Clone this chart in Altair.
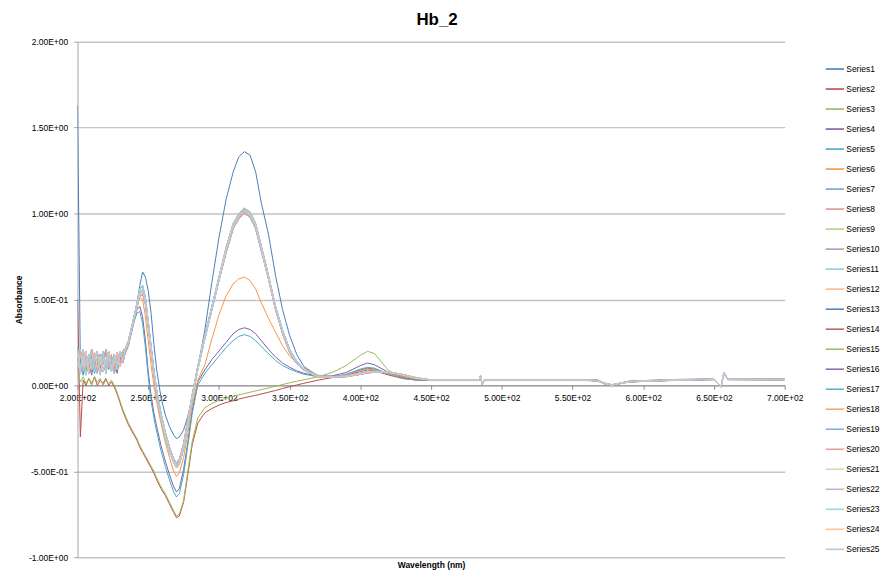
import altair as alt
import pandas as pd

WAVELENGTH = [200, 202, 204, 206, 208, 210, 212, 214, 216, 218, 220, 222, 224, 226, 228, 230, 232, 234,
              236, 238, 240, 242, 244, 246, 248, 250, 252, 254, 256, 259, 262, 265, 268, 270, 272, 275, 278, 281, 285,
              290, 295, 300, 305, 310, 314, 318, 322, 326, 330, 335, 340, 345, 350, 355, 360,
              370, 380, 390, 400, 405, 410, 420, 430, 440, 450,
              484, 485, 486, 488, 520, 560, 568, 572, 578, 584, 590, 620, 650, 655, 657, 660, 700]

S1 = [1.63, 0.12, 0.06, 0.15, 0.09, 0.17, 0.07, 0.13, 0.10, 0.16, 0.08, 0.14, 0.11, 0.17, 0.09, 0.15, 0.18, 0.21,
      0.25, 0.31, 0.38, 0.47, 0.58, 0.66, 0.63, 0.55, 0.42, 0.24, 0.09, -0.07, -0.17, -0.24, -0.29, -0.31, -0.30, -0.26, -0.18, -0.07, 0.10,
      0.32, 0.60, 0.86, 1.08, 1.24, 1.33, 1.36, 1.34, 1.24, 1.06, 0.88, 0.64, 0.44, 0.29, 0.18, 0.11,
      0.055, 0.05, 0.06, 0.09, 0.10, 0.095, 0.07, 0.05, 0.035, 0.03,
      0.03, 0.05, 0.008, 0.03, 0.03, 0.03, 0.028, 0.012, 0.003, 0.012, 0.022, 0.03, 0.035, -0.008, 0.07, 0.035, 0.035]

S2 = [0.50, -0.30, 0.03, 0.00, 0.04, 0.01, 0.05, 0.00, 0.03, 0.01, 0.04, 0.00, 0.02, -0.01, -0.05, -0.10, -0.15, -0.19,
      -0.23, -0.26, -0.29, -0.32, -0.36, -0.39, -0.42, -0.45, -0.48, -0.51, -0.55, -0.60, -0.64, -0.69, -0.74, -0.77, -0.76, -0.68, -0.52, -0.35, -0.22,
      -0.16, -0.135, -0.115, -0.10, -0.09, -0.08, -0.072, -0.065, -0.058, -0.05, -0.04, -0.03, -0.018, -0.008, 0.002, 0.012,
      0.03, 0.045, 0.06, 0.08, 0.09, 0.085, 0.06, 0.04, 0.03, 0.028,
      0.028, 0.05, 0.006, 0.028, 0.028, 0.028, 0.025, 0.01, 0.0, 0.01, 0.02, 0.028, 0.033, -0.01, 0.07, 0.033, 0.032]

S3 = [0.08, 0.02, 0.05, 0.01, 0.04, 0.00, 0.05, 0.02, 0.04, 0.00, 0.03, 0.01, 0.03, 0.00, -0.04, -0.09, -0.14, -0.18,
      -0.22, -0.25, -0.28, -0.31, -0.35, -0.38, -0.41, -0.44, -0.47, -0.50, -0.54, -0.59, -0.63, -0.68, -0.73, -0.76, -0.75, -0.67, -0.50, -0.33, -0.19,
      -0.13, -0.105, -0.088, -0.075, -0.064, -0.055, -0.048, -0.04, -0.032, -0.025, -0.015, -0.005, 0.005, 0.015, 0.024, 0.032,
      0.05, 0.075, 0.115, 0.175, 0.198, 0.185, 0.085, 0.05, 0.035, 0.03,
      0.03, 0.052, 0.008, 0.03, 0.03, 0.03, 0.027, 0.012, 0.002, 0.012, 0.022, 0.03, 0.035, -0.008, 0.072, 0.035, 0.034]

S4 = [0.12, 0.07, 0.16, 0.09, 0.13, 0.06, 0.15, 0.10, 0.17, 0.08, 0.12, 0.16, 0.09, 0.14, 0.07, 0.16, 0.15, 0.20,
      0.24, 0.31, 0.38, 0.44, 0.46, 0.40, 0.26, 0.08, -0.06, -0.16, -0.24, -0.35, -0.44, -0.52, -0.59, -0.62, -0.60, -0.49, -0.33, -0.15, 0.02,
      0.09, 0.15, 0.20, 0.25, 0.30, 0.325, 0.335, 0.325, 0.30, 0.26, 0.21, 0.165, 0.13, 0.105, 0.085, 0.07,
      0.055, 0.055, 0.075, 0.115, 0.13, 0.12, 0.075, 0.045, 0.035, 0.033,
      0.034, 0.056, 0.01, 0.034, 0.034, 0.034, 0.031, 0.015, 0.004, 0.014, 0.025, 0.034, 0.038, -0.006, 0.074, 0.038, 0.037]

S5 = [0.09, 0.14, 0.06, 0.12, 0.17, 0.08, 0.11, 0.15, 0.07, 0.13, 0.18, 0.09, 0.14, 0.08, 0.15, 0.12, 0.17, 0.19,
      0.23, 0.30, 0.37, 0.42, 0.43, 0.36, 0.22, 0.05, -0.09, -0.19, -0.27, -0.38, -0.47, -0.55, -0.62, -0.65, -0.63, -0.52, -0.35, -0.17, 0.0,
      0.07, 0.12, 0.17, 0.22, 0.26, 0.285, 0.295, 0.285, 0.26, 0.225, 0.185, 0.145, 0.115, 0.095, 0.078, 0.065,
      0.05, 0.05, 0.065, 0.095, 0.105, 0.10, 0.065, 0.04, 0.03, 0.028,
      0.028, 0.05, 0.005, 0.028, 0.029, 0.029, 0.026, 0.011, 0.001, 0.011, 0.021, 0.029, 0.034, -0.01, 0.07, 0.033, 0.033]

S6 = [0.15, 0.08, 0.18, 0.10, 0.14, 0.20, 0.09, 0.16, 0.11, 0.19, 0.08, 0.15, 0.18, 0.10, 0.16, 0.13, 0.19, 0.21,
      0.25, 0.32, 0.39, 0.46, 0.51, 0.50, 0.40, 0.26, 0.12, 0.0, -0.10, -0.22, -0.33, -0.42, -0.50, -0.53, -0.51, -0.42, -0.28, -0.12, 0.03,
      0.12, 0.27, 0.41, 0.52, 0.59, 0.62, 0.63, 0.61, 0.56, 0.48, 0.39, 0.31, 0.23, 0.17, 0.13, 0.10,
      0.06, 0.05, 0.06, 0.085, 0.095, 0.09, 0.07, 0.05, 0.035, 0.031,
      0.031, 0.053, 0.008, 0.031, 0.031, 0.031, 0.028, 0.013, 0.003, 0.013, 0.023, 0.031, 0.036, -0.008, 0.072, 0.036, 0.035]

# Series 7-25 are drawn almost on top of each other; four read-off variants
CLUSTER_A = [0.22, 0.10, 0.17, 0.06, 0.14, 0.19, 0.08, 0.15, 0.12, 0.20, 0.07, 0.16, 0.11, 0.18, 0.09, 0.17, 0.20, 0.22,
             0.26, 0.33, 0.40, 0.48, 0.56, 0.58, 0.51, 0.37, 0.23, 0.09, -0.03, -0.16, -0.27, -0.36, -0.43, -0.46, -0.44, -0.35, -0.21, -0.06, 0.11,
             0.29, 0.46, 0.63, 0.80, 0.94, 1.00, 1.03, 1.01, 0.94, 0.81, 0.64, 0.46, 0.32, 0.21, 0.14, 0.095,
             0.055, 0.05, 0.055, 0.07, 0.08, 0.082, 0.078, 0.062, 0.042, 0.031,
             0.031, 0.054, 0.007, 0.031, 0.031, 0.03, 0.028, 0.012, 0.002, 0.013, 0.022, 0.031, 0.036, -0.009, 0.075, 0.036, 0.035]

CLUSTER_B = [0.09, 0.18, 0.12, 0.20, 0.07, 0.15, 0.19, 0.10, 0.17, 0.08, 0.14, 0.20, 0.09, 0.13, 0.19, 0.11, 0.16, 0.21,
             0.25, 0.32, 0.39, 0.46, 0.53, 0.55, 0.49, 0.35, 0.21, 0.07, -0.05, -0.18, -0.29, -0.38, -0.44, -0.47, -0.45, -0.36, -0.22, -0.07, 0.10,
             0.28, 0.45, 0.62, 0.79, 0.93, 0.99, 1.02, 1.00, 0.93, 0.80, 0.63, 0.45, 0.31, 0.20, 0.13, 0.09,
             0.05, 0.048, 0.052, 0.066, 0.075, 0.078, 0.075, 0.06, 0.04, 0.03,
             0.03, 0.053, 0.006, 0.03, 0.03, 0.03, 0.027, 0.011, 0.001, 0.012, 0.021, 0.03, 0.035, -0.01, 0.074, 0.035, 0.034]

CLUSTER_C = [0.16, 0.07, 0.21, 0.11, 0.18, 0.09, 0.14, 0.20, 0.06, 0.16, 0.12, 0.19, 0.08, 0.17, 0.12, 0.20, 0.15, 0.22,
             0.26, 0.33, 0.40, 0.47, 0.54, 0.56, 0.50, 0.36, 0.21, 0.07, -0.05, -0.19, -0.30, -0.39, -0.45, -0.48, -0.46, -0.37, -0.23, -0.08, 0.09,
             0.27, 0.44, 0.61, 0.78, 0.92, 0.98, 1.01, 0.99, 0.92, 0.79, 0.62, 0.45, 0.31, 0.20, 0.13, 0.09,
             0.052, 0.05, 0.054, 0.068, 0.076, 0.08, 0.077, 0.064, 0.044, 0.032,
             0.032, 0.055, 0.008, 0.032, 0.032, 0.031, 0.028, 0.013, 0.003, 0.013, 0.022, 0.031, 0.036, -0.009, 0.076, 0.036, 0.035]

CLUSTER_D = [0.13, 0.21, 0.08, 0.16, 0.11, 0.21, 0.13, 0.07, 0.18, 0.12, 0.21, 0.10, 0.17, 0.07, 0.14, 0.19, 0.13, 0.20,
             0.24, 0.31, 0.38, 0.45, 0.52, 0.53, 0.47, 0.34, 0.20, 0.06, -0.06, -0.18, -0.28, -0.36, -0.43, -0.45, -0.43, -0.34, -0.20, -0.06, 0.10,
             0.28, 0.44, 0.61, 0.77, 0.91, 0.97, 1.00, 0.98, 0.91, 0.78, 0.62, 0.44, 0.30, 0.19, 0.125, 0.088,
             0.05, 0.047, 0.05, 0.064, 0.072, 0.076, 0.074, 0.06, 0.041, 0.03,
             0.03, 0.052, 0.006, 0.03, 0.03, 0.029, 0.026, 0.011, 0.001, 0.011, 0.02, 0.029, 0.034, -0.01, 0.073, 0.034, 0.033]

SERIES_NAMES = [f"Series{i}" for i in range(1, 26)]
SERIES_VALUES = {
    "Series1": S1, "Series2": S2, "Series3": S3, "Series4": S4, "Series5": S5, "Series6": S6,
    "Series7": CLUSTER_A, "Series8": CLUSTER_B, "Series9": CLUSTER_C, "Series10": CLUSTER_D,
    "Series11": CLUSTER_A, "Series12": CLUSTER_B, "Series13": CLUSTER_C, "Series14": CLUSTER_D,
    "Series15": CLUSTER_A, "Series16": CLUSTER_B, "Series17": CLUSTER_C, "Series18": CLUSTER_D,
    "Series19": CLUSTER_A, "Series20": CLUSTER_B, "Series21": CLUSTER_C, "Series22": CLUSTER_D,
    "Series23": CLUSTER_A, "Series24": CLUSTER_B, "Series25": CLUSTER_C,
}
COLORS = ["#4A7EBB", "#BE4B48", "#98B954", "#7D60A0", "#46AAC5", "#F79646",
          "#7BA0CD", "#D99694", "#B9CE8F", "#A99BBD", "#8DCDDE", "#F9B98C",
          "#5B87C1", "#C46462", "#9FBE6A", "#8A71A9", "#57B5CC", "#F8A46C",
          "#8AADD8", "#E3A19F", "#CEDDB0", "#C0B1D5", "#9ED8E5", "#FBC39A", "#B4C8E3"]

X_TICKS = [200, 250, 300, 350, 400, 450, 500, 550, 600, 650, 700]
Y_TICKS = [-1.0, -0.5, 0.0, 0.5, 1.0, 1.5, 2.0]

rows = []
for k, name in enumerate(SERIES_NAMES):
    for w, v in zip(WAVELENGTH, SERIES_VALUES[name]):
        rows.append({"series": name, "k": k, "wl": w, "absorbance": v})
df = pd.DataFrame(rows)

PLOT_W, PLOT_H = 712, 519
FONT = "Liberation Sans"

x_label = "format(datum.value / 100, '.2f') + 'E+02'"
y_label = ("datum.value == 0 ? '0.00E+00' : ((datum.value < 0 ? '-' : '') + "
           "(abs(datum.value) >= 1 ? format(abs(datum.value), '.2f') + 'E+00' : "
           "format(abs(datum.value) * 10, '.2f') + 'E-01'))")

chart = alt.Chart(df).mark_line(strokeWidth=1.0, clip=True).encode(
    x=alt.X("wl:Q",
            scale=alt.Scale(domain=[200, 700], nice=False, zero=False),
            axis=alt.Axis(values=X_TICKS, labelExpr=x_label, title="Wavelength (nm)",
                          offset=-PLOT_H / 3, titleY=176, grid=False,
                          domainColor="#8C8C8C", tickColor="#8C8C8C", tickSize=4,
                          labelPadding=4, labelFontSize=8.5, labelColor="#000000",
                          titleFontSize=8.5, titleFontWeight="bold", titleColor="#000000",
                          zindex=0, labelFlush=False)),
    y=alt.Y("absorbance:Q",
            scale=alt.Scale(domain=[-1, 2], nice=False, zero=False),
            axis=alt.Axis(values=Y_TICKS, labelExpr=y_label, title="Absorbance",
                          titleX=-54, titleY=PLOT_H / 2, grid=True,
                          gridColor="#C4C4C4", gridWidth=1.5,
                          domainColor="#A6A6A6", tickColor="#A6A6A6", tickSize=4,
                          labelPadding=6, labelFontSize=8.5, labelColor="#000000",
                          titleFontSize=8.5, titleFontWeight="bold", titleColor="#000000",
                          labelFlush=False)),
    color=alt.Color("series:N",
                    scale=alt.Scale(domain=SERIES_NAMES, range=COLORS),
                    title=None,
                    legend=alt.Legend(orient="none", legendX=752, legendY=17,
                                      symbolType="stroke", symbolSize=339, symbolStrokeWidth=1.6,
                                      labelFontSize=8.5, labelColor="#000000", labelOffset=1,
                                      rowPadding=5.15, padding=0)),
    detail="k:O",
).properties(
    width=PLOT_W, height=PLOT_H,
    title=alt.TitleParams("Hb_2", fontSize=17, fontWeight="bold", color="#000000",
                          anchor="middle", dx=6, offset=9),
    padding={"left": 70, "top": 32, "right": 100, "bottom": 16},
    autosize=alt.AutoSizeParams(type="none"),
).configure(font=FONT).configure_view(strokeWidth=0)

chart.save("out.html", embed_options={"renderer": "svg", "actions": False})
